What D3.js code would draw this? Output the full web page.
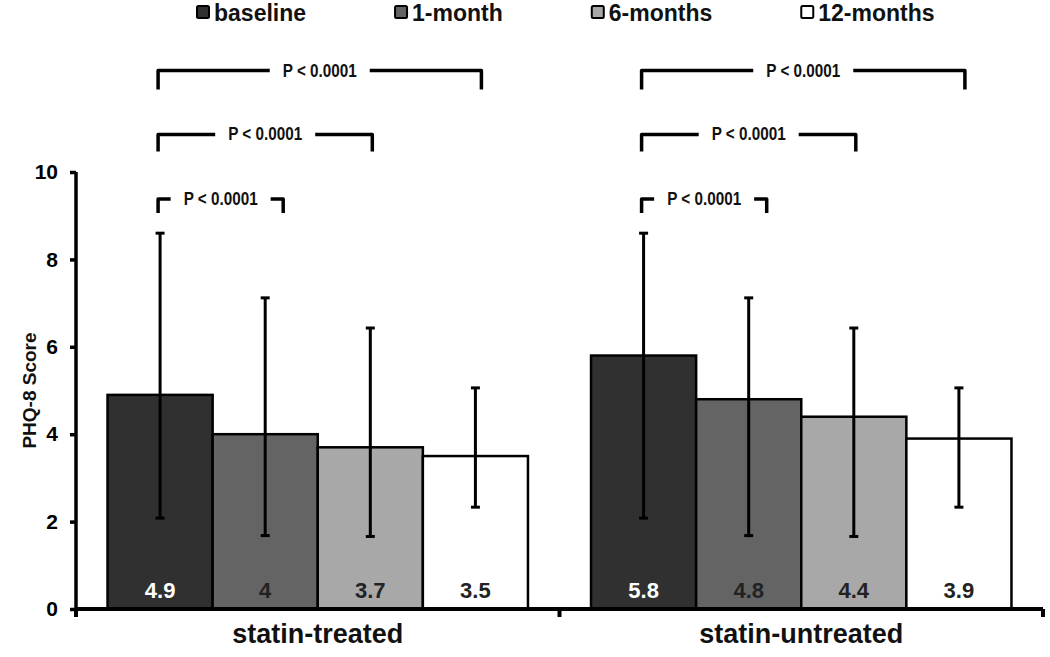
<!DOCTYPE html>
<html><head><meta charset="utf-8">
<script src="https://cdn.jsdelivr.net/npm/d3@7"></script>
<style>
html,body{margin:0;padding:0;background:#fff;}
svg{display:block;font-family:"Liberation Sans",Arial,sans-serif;font-weight:bold;}
</style></head>
<body>
<svg id="chart" width="1050" height="657"></svg>
<script>
// ---- data ----
const categories = ["statin-treated", "statin-untreated"];
const series = ["baseline", "1-month", "6-months", "12-months"];
const means = {
  "statin-treated":   [4.9, 4.0, 3.7, 3.5],
  "statin-untreated": [5.8, 4.8, 4.4, 3.9]
};
const upperErr = {
  "statin-treated":   [8.6, 7.12, 6.43, 5.06],
  "statin-untreated": [8.6, 7.12, 6.43, 5.06]
};
const lowerErr = {
  "statin-treated":   [2.08, 1.68, 1.66, 2.33],
  "statin-untreated": [2.08, 1.68, 1.66, 2.33]
};
const valueLabels = {
  "statin-treated":   ["4.9", "4", "3.7", "3.5"],
  "statin-untreated": ["5.8", "4.8", "4.4", "3.9"]
};
const yTicks = [0, 2, 4, 6, 8, 10];
const comparisons = [
  {from: "baseline", to: "1-month",   label: "P < 0.0001"},
  {from: "baseline", to: "6-months",  label: "P < 0.0001"},
  {from: "baseline", to: "12-months", label: "P < 0.0001"}
];
const colors = ["#303030", "#646464", "#a8a8a8", "#ffffff"];
const labelColors = ["#ffffff", "#222222", "#222222", "#222222"];

// ---- scales ----
const svg = d3.select("#chart");
const y = d3.scaleLinear().domain([0, 10]).range([609, 172]);
const x0 = d3.scaleBand().domain(categories).range([76, 1043]).paddingInner(0).paddingOuter(0);
const x1 = d3.scaleBand().domain(series).range([0, x0.bandwidth()]).paddingInner(0).paddingOuter(0.3);
const color = d3.scaleOrdinal().domain(series).range(colors);
const txtColor = d3.scaleOrdinal().domain(series).range(labelColors);

// ---- bars ----
const groups = svg.append("g").selectAll("g").data(categories).join("g")
  .attr("transform", d => `translate(${x0(d)},0)`);

groups.selectAll("rect").data(c => series.map((s, i) => ({c, s, i, v: means[c][i]})))
  .join("rect")
  .attr("x", d => x1(d.s))
  .attr("y", d => y(d.v))
  .attr("width", x1.bandwidth())
  .attr("height", d => y(0) - y(d.v))
  .attr("fill", d => color(d.s))
  .attr("stroke", "#000")
  .attr("stroke-width", 2.5);

// error bars
const eb = groups.selectAll("g.err").data(c => series.map((s, i) => ({c, s, i, hi: upperErr[c][i], lo: lowerErr[c][i]})))
  .join("g").attr("class", "err");
eb.append("line")
  .attr("x1", d => x1(d.s) + x1.bandwidth() / 2)
  .attr("x2", d => x1(d.s) + x1.bandwidth() / 2)
  .attr("y1", d => y(d.hi)).attr("y2", d => y(d.lo))
  .attr("stroke", "#000").attr("stroke-width", 3);
["hi", "lo"].forEach(k => {
  eb.append("line")
    .attr("x1", d => x1(d.s) + x1.bandwidth() / 2 - 4.5)
    .attr("x2", d => x1(d.s) + x1.bandwidth() / 2 + 4.5)
    .attr("y1", d => y(d[k])).attr("y2", d => y(d[k]))
    .attr("stroke", "#000").attr("stroke-width", 3);
});

// value labels
groups.selectAll("text.val").data(c => series.map((s, i) => ({c, s, i, t: valueLabels[c][i]})))
  .join("text").attr("class", "val")
  .attr("x", d => x1(d.s) + x1.bandwidth() / 2)
  .attr("y", y(0) - 11)
  .attr("text-anchor", "middle")
  .attr("font-size", 22)
  .attr("fill", d => txtColor(d.s))
  .text(d => d.t);

// ---- axes ----
const yAxis = d3.axisLeft(y).tickValues(yTicks).tickSize(6).tickPadding(12).tickFormat(d3.format("d"));
const gy = svg.append("g").attr("transform", `translate(${x0.range()[0]},0)`).call(yAxis);
gy.select(".domain").attr("stroke", "#000").attr("stroke-width", 3.5).attr("d", `M0,${y(0)}V${y(10)}`);
gy.selectAll(".tick line").attr("stroke", "#000").attr("stroke-width", 3.5);
gy.selectAll(".tick text").attr("font-size", 21).attr("font-weight", "bold").attr("fill", "#000")
  .attr("font-family", "Liberation Sans, Arial, sans-serif");

const xAxis = d3.axisBottom(x0).tickSize(0).tickFormat("");
const gx = svg.append("g").attr("transform", `translate(0,${y(0)})`).call(xAxis);
gx.select(".domain").attr("stroke", "#000").attr("stroke-width", 4)
  .attr("d", `M${x0.range()[0]},0H${x0.range()[1]}`);
// category boundary ticks
const bounds = [x0.range()[0], ...categories.slice(1).map(c => x0(c)), x0.range()[1]];
gx.selectAll("line.bt").data(bounds).join("line").attr("class", "bt")
  .attr("x1", d => d).attr("x2", d => d).attr("y1", 0).attr("y2", 8)
  .attr("stroke", "#000").attr("stroke-width", 4);

// category labels
svg.append("g").selectAll("text").data(categories).join("text")
  .attr("x", d => x0(d) + x0.bandwidth() / 2)
  .attr("y", 643)
  .attr("text-anchor", "middle")
  .attr("font-size", 27)
  .attr("fill", "#111")
  .text(d => d);

// y axis title
svg.append("text")
  .attr("transform", `translate(31,${(y(0) + y(10)) / 2}) rotate(-90)`)
  .attr("text-anchor", "middle")
  .attr("dominant-baseline", "middle")
  .attr("font-size", 19)
  .attr("fill", "#111")
  .text("PHQ-8 Score");

// ---- significance brackets ----
const tierY = [9.38, 10.86, 12.32];         // bracket heights in data units
const tierDrop = [14, 17, 19];              // end tick lengths (px)
const tierRightNudge = [18, 2, 6];
categories.forEach(c => {
  comparisons.forEach((cmp, t) => {
    const xa = x0(c) + x1(cmp.from) + x1.bandwidth() / 2 - 2;
    const xb = x0(c) + x1(cmp.to) + x1.bandwidth() / 2 + tierRightNudge[t];
    const yy = y(tierY[t]);
    const g = svg.append("g");
    const tw = 74;
    g.append("text")
      .attr("x", (xa + xb) / 2).attr("y", yy)
      .attr("text-anchor", "middle").attr("dominant-baseline", "central")
      .attr("font-size", 18).attr("fill", "#111")
      .attr("textLength", tw).attr("lengthAdjust", "spacingAndGlyphs")
      .text(cmp.label);
    const gap = 13;
    const lx = (xa + xb) / 2 - tw / 2 - gap, rx = (xa + xb) / 2 + tw / 2 + gap;
    g.append("path")
      .attr("d", `M${xa},${yy + tierDrop[t]}V${yy}H${Math.max(xa + 12, lx)}`)
      .attr("fill", "none").attr("stroke", "#000").attr("stroke-width", 3.5).attr("stroke-linejoin", "round");
    g.append("path")
      .attr("d", `M${Math.min(xb - 10, rx)},${yy}H${xb}V${yy + tierDrop[t]}`)
      .attr("fill", "none").attr("stroke", "#000").attr("stroke-width", 3.5).attr("stroke-linejoin", "round");
  });
});

// ---- legend ----
const legend = svg.append("g");
let lx = 196;
series.forEach((s, i) => {
  const g = legend.append("g").attr("transform", `translate(${lx},0)`);
  g.append("rect").attr("x", 1).attr("y", 6).attr("width", 12).attr("height", 12)
    .attr("fill", color(s)).attr("stroke", "#000").attr("stroke-width", 2).attr("rx", 1.5);
  const t = g.append("text").attr("x", 18).attr("y", 21)
    .attr("font-size", 23).attr("fill", "#111").text(s);
  lx += 18 + t.node().getComputedTextLength() + 88;
});
</script>
</body></html>
